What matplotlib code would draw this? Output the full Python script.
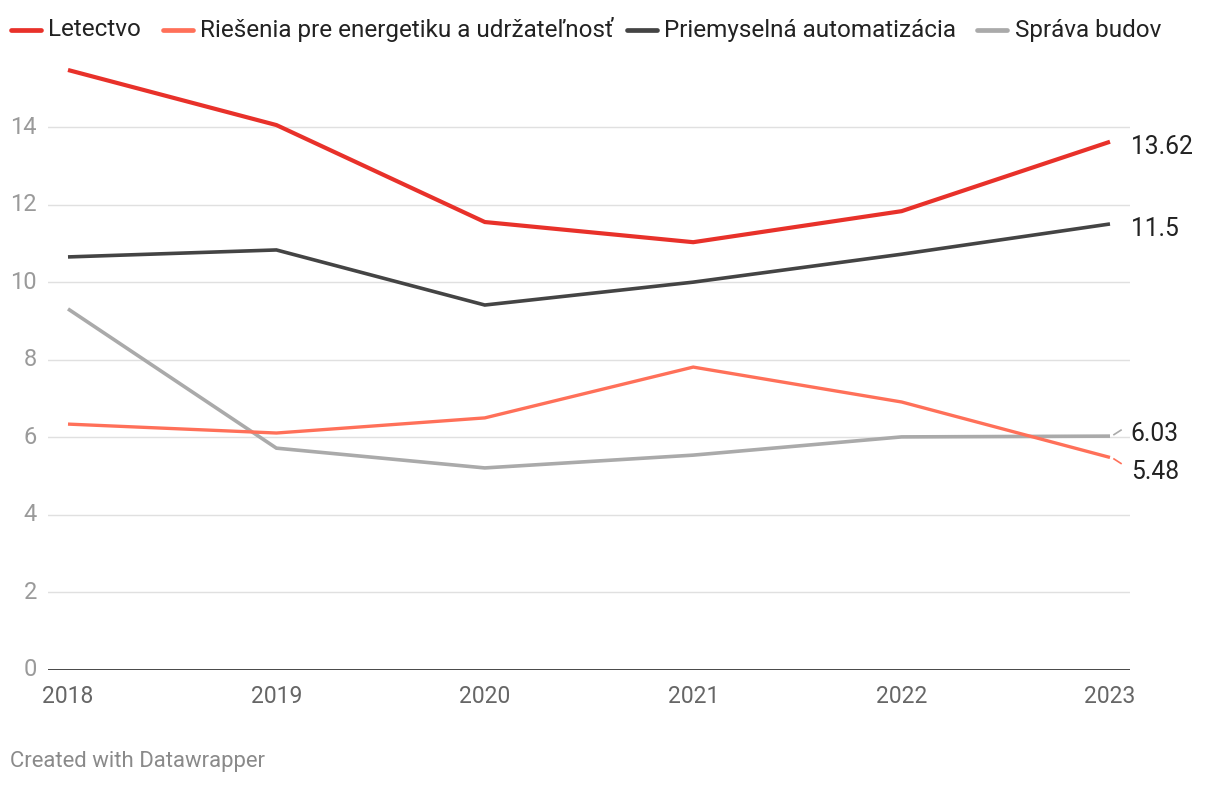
import matplotlib
matplotlib.use("Agg")
import matplotlib.pyplot as plt
from matplotlib.lines import Line2D

plt.rcParams['font.family'] = ['Roboto', 'DejaVu Sans']

years = [2018, 2019, 2020, 2021, 2022, 2023]
letectvo = [15.47, 14.05, 11.55, 11.03, 11.83, 13.62]
energetika = [6.34, 6.11, 6.50, 7.81, 6.91, 5.48]
automatizacia = [10.65, 10.83, 9.41, 10.0, 10.72, 11.5]
budovy = [9.31, 5.72, 5.21, 5.54, 6.01, 6.03]

names = ["Letectvo", "Riešenia pre energetiku a udržateľnosť",
         "Priemyselná automatizácia", "Správa budov"]
colors = ["#e8312a", "#ff7059", "#444444", "#aaaaaa"]
widths = [3.0, 2.4, 2.6, 2.6]
series = [letectvo, energetika, automatizacia, budovy]
yticks = [0, 2, 4, 6, 8, 10, 12, 14]

W, H = 1220, 786
fig = plt.figure(figsize=(W/100, H/100), dpi=100)
left, right, bottom, top = 48, 1130, 670, 60
ax = fig.add_axes([left/W, (H-bottom)/H, (right-left)/W, (bottom-top)/H])

px_per_year = (1110 - 68) / 5
ax.set_xlim(2018 - 20/px_per_year, 2023 + 20/px_per_year)
px_per_unit = (670 - 127) / 14
ax.set_ylim(0, (670 - 60) / px_per_unit)

for v in yticks[1:]:
    ax.axhline(v, color="#e0e0e0", lw=1.0, zorder=0)
ax.axhline(0, color="#111111", lw=1.8, zorder=3)

# draw order: buildings, energy, industrial, aviation
for i in [3, 1, 2, 0]:
    ax.plot(years, series[i], color=colors[i], lw=widths[i], zorder=2,
            solid_capstyle='butt', solid_joinstyle='miter')

for s in ax.spines.values():
    s.set_visible(False)
ax.set_yticks(yticks)
ax.set_yticklabels([str(v) for v in yticks])
ax.set_xticks(years)
ax.set_xticklabels([str(y) for y in years])
ax.tick_params(axis='y', length=0, pad=8, labelsize=17, labelcolor="#9a9a9a")
ax.tick_params(axis='x', length=0, pad=11, labelsize=16.5, labelcolor="#666666")
for lab in ax.get_yticklabels():
    lab.set_verticalalignment('center')

# end labels (pixel offsets for overlapping labels)
label_dy = {0: -5, 2: -5, 3: 2, 1: -14.5}
stub_dir = {0: 0, 2: 0, 3: 1, 1: -1}
for i, s in enumerate(series):
    val = s[-1]
    txt = f"{val:g}"
    sgn = stub_dir[i]
    if sgn != 0:
        ax.plot([2023 + 4/px_per_year, 2023 + 11/px_per_year],
                [val + sgn*1.5/px_per_unit, val + sgn*6/px_per_unit],
                color=colors[i], lw=1.2, zorder=2, clip_on=False)
    y_lab = val + label_dy[i] / px_per_unit
    ax.annotate(txt, xy=(2023, y_lab), xytext=(15, 0), textcoords='offset points',
                fontsize=17.7, color="#222222", va='center', ha='left',
                annotation_clip=False)

# legend
leg_y = 1 - 30/H
items = [(11, 41, 48), (163, 193, 200), (627, 657, 664), (977, 1007, 1015)]
for (x0, x1, xt), name, c in zip(items, names, colors):
    fig.add_artist(Line2D([x0/W, x1/W], [leg_y, leg_y], color=c, lw=3.4,
                          solid_capstyle='round', transform=fig.transFigure))
    fig.text(xt/W, leg_y, name, fontsize=17.5, color="#222222", va='center', ha='left')

fig.text(10/W, 1 - 762/H, "Created with Datawrapper", fontsize=15.9,
         color="#8a8a8a", va='center', ha='left')

fig.savefig("out.png", dpi=100, facecolor="white")
